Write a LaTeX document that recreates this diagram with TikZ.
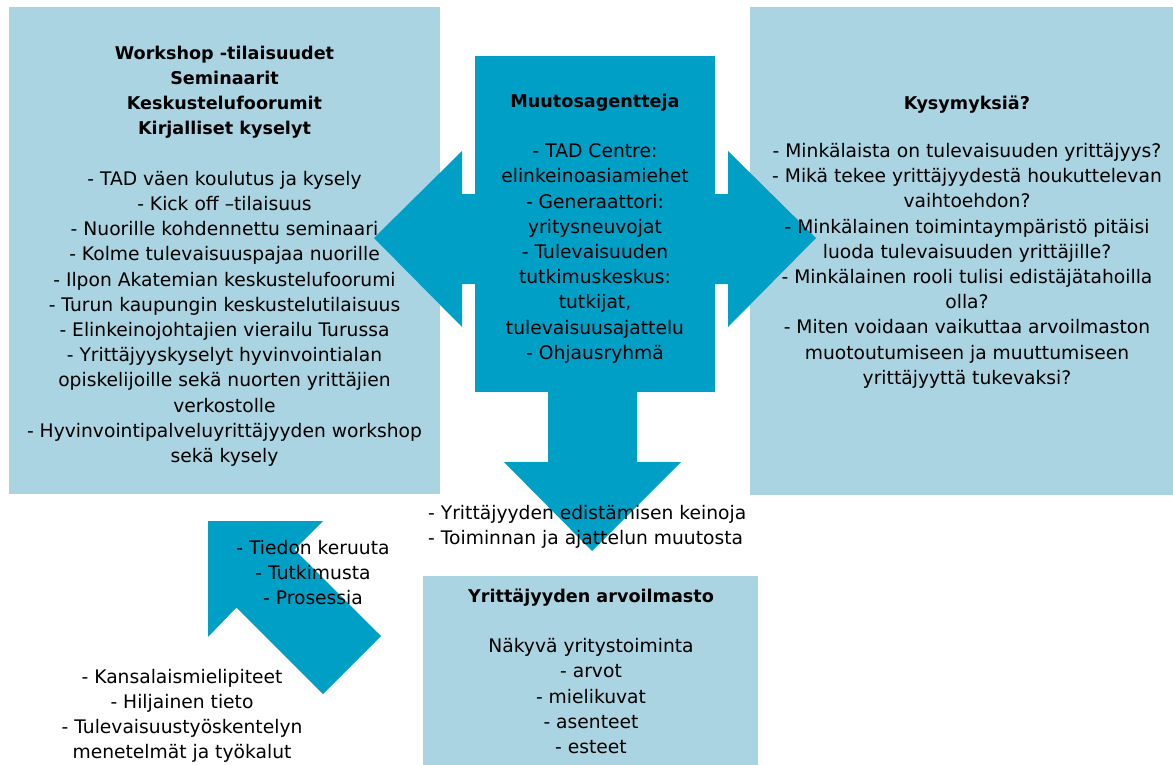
\documentclass[tikz,border=0pt]{standalone}
\usepackage{fontspec}
\setmainfont{DejaVu Sans}
\definecolor{lightbox}{RGB}{170,212,225}
\definecolor{darkarrow}{RGB}{0,159,198}
\newcommand\bodyfs{\fontsize{18.7}{25.2}\selectfont}
\newcommand\headfs{\fontsize{17.6}{25.2}\selectfont\bfseries}
\begin{document}
\begin{tikzpicture}[x=1pt,y=-1pt,
  panel/.style={fill=lightbox,draw=none},
  blockarrow/.style={fill=darkarrow,draw=none},
  txt/.style={inner sep=0pt,align=center,font=\bodyfs,text=black,anchor=north}]
\useasboundingbox (0,0) rectangle (1173,765);
% light panels
\fill[panel] (9,7) rectangle (440,494);
\fill[panel] (750,7) rectangle (1173,495);
\fill[panel] (423,576) rectangle (758,765);
% central block with arrows
\fill[blockarrow] (475,56) rectangle (715,392);
\fill[blockarrow] (374,238) -- (462,151) -- (462,194) -- (480,194) -- (480,284) -- (462,284) -- (462,327) -- cycle;
\fill[blockarrow] (816,238) -- (728,151) -- (728,194) -- (710,194) -- (710,284) -- (728,284) -- (728,327) -- cycle;
\fill[blockarrow] (592,551) -- (504,462) -- (548,462) -- (548,385) -- (637,385) -- (637,462) -- (681,462) -- cycle;
% diagonal arrow
\fill[blockarrow] (208,521) -- (323,521) -- (294.5,549.5) -- (381,636) -- (323,694) -- (236.5,607.5) -- (208,637) -- cycle;
% texts
\node[txt] (methods) at (224.5,41.4) {\strut{\headfs Workshop -tilaisuudet}\\{\headfs Seminaarit}\\{\headfs Keskustelufoorumit}\\{\headfs Kirjalliset kyselyt}\\[25.2pt]
- TAD väen koulutus ja kysely\\- Kick off –tilaisuus\\- Nuorille kohdennettu seminaari\\- Kolme tulevaisuuspajaa nuorille\\- Ilpon Akatemian keskustelufoorumi\\- Turun kaupungin keskustelutilaisuus\\- Elinkeinojohtajien vierailu Turussa\\- Yrittäjyyskyselyt hyvinvointialan\\opiskelijoille sekä nuorten yrittäjien\\verkostolle\\- Hyvinvointipalveluyrittäjyyden workshop\\sekä kysely};
\node[txt] (agents) at (595,89.4) {\strut{\headfs Muutosagentteja}\\[25.2pt]
- TAD Centre:\\elinkeinoasiamiehet\\- Generaattori:\\yritysneuvojat\\- Tulevaisuuden\\tutkimuskeskus:\\tutkijat,\\tulevaisuusajattelu\\- Ohjausryhmä};
\node[txt] (questions) at (967,91.4) {\strut{\headfs Kysymyksiä?}\\[23pt]
- Minkälaista on tulevaisuuden yrittäjyys?\\- Mikä tekee yrittäjyydestä houkuttelevan\\vaihtoehdon?\\- Minkälainen toimintaympäristö pitäisi\\luoda tulevaisuuden yrittäjille?\\- Minkälainen rooli tulisi edistäjätahoilla\\olla?\\- Miten voidaan vaikuttaa arvoilmaston\\muotoutumiseen ja muuttumiseen\\yrittäjyyttä tukevaksi?};
\node[txt,align=left,anchor=north west] (outcomes) at (428,501.4) {\strut- Yrittäjyyden edistämisen keinoja\\- Toiminnan ja ajattelun muutosta};
\node[txt] (climate) at (591,584.4) {\strut{\headfs Yrittäjyyden arvoilmasto}\\[25.2pt]
Näkyvä yritystoiminta\\- arvot\\- mielikuvat\\- asenteet\\- esteet};
\node[txt] (research) at (313,536.4) {\strut- Tiedon keruuta\\- Tutkimusta\\- Prosessia};
\node[txt] (sources) at (182,665.4) {\strut- Kansalaismielipiteet\\- Hiljainen tieto\\- Tulevaisuustyöskentelyn\\menetelmät ja työkalut};
\end{tikzpicture}
\end{document}
